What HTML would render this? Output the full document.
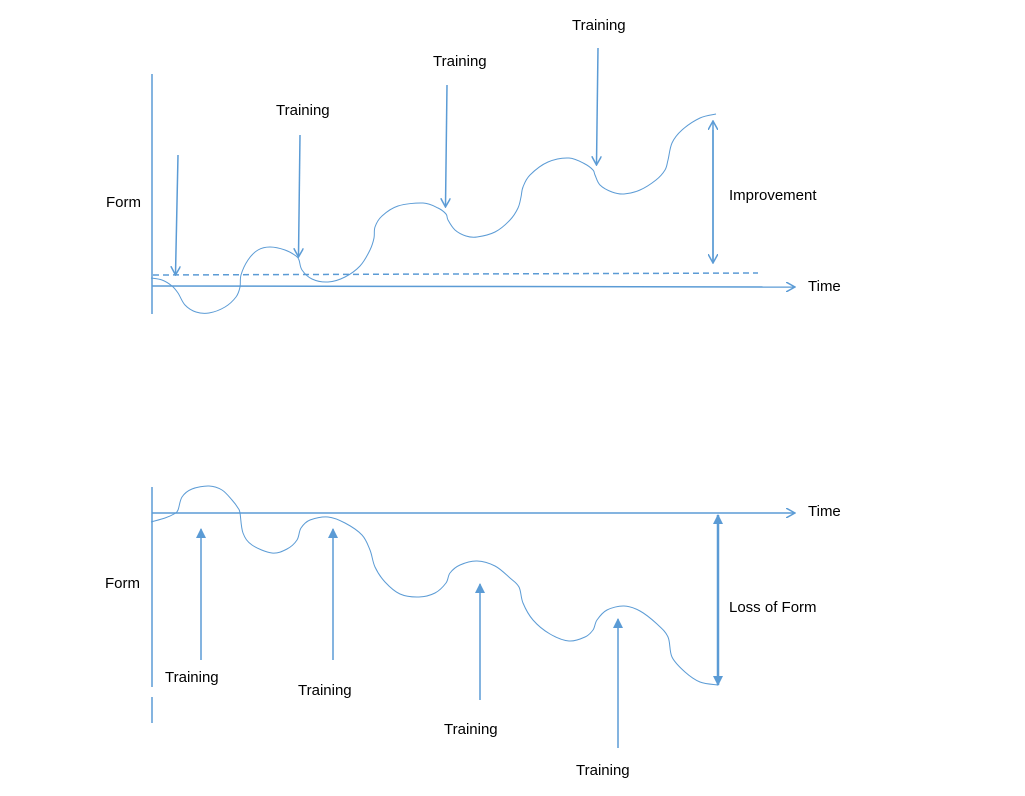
<!DOCTYPE html>
<html><head><meta charset="utf-8"><style>
html,body{margin:0;padding:0;background:#fff;}
svg{display:block}
text{font-family:"Liberation Sans",sans-serif;font-size:15px;fill:#000}
</style></head><body>
<svg width="1025" height="796" viewBox="0 0 1025 796">
<defs>
<marker id="a" markerWidth="10" markerHeight="10" refX="8" refY="5" orient="auto" markerUnits="userSpaceOnUse">
<path d="M0,0 L9,5 L0,10" fill="none" stroke="#5b9bd5" stroke-width="1.5"/></marker>
<marker id="t" markerWidth="10" markerHeight="10" refX="9" refY="5" orient="auto" markerUnits="userSpaceOnUse">
<path d="M0,0 L10,5 L0,10 Z" fill="#5b9bd5"/></marker>
</defs>
<g stroke="#5b9bd5" fill="none">
<line x1="152" y1="74" x2="152" y2="314" stroke-width="1.5"/>
<line x1="152" y1="286" x2="794" y2="287" stroke-width="1.5" marker-end="url(#a)"/>
<line x1="153" y1="275" x2="758" y2="273" stroke-width="1.5" stroke-dasharray="6,4"/>
<polyline class="sm" stroke-width="1" stroke-linejoin="round" points="151,278 162,280 172,286 178,293 185,305 196,312 209,313 225,307 236,297 240,287 241,275 248,260 258,250 270,247 285,250 296,256 299,260 302,270 312,279 328,282 345,277 360,266 370,250 374,238 375,227 382,216 398,206 423,203 438,208 446,214 448,220 455,230 466,236 477,237 495,232 510,220 518,208 521,197 523,187 530,175 548,162 569,158 585,164 593,170 595,175 600,185 612,192 624,194 640,190 656,180 665,170 668,160 672,143 682,130 700,118 716,114"/>
<line x1="178" y1="155" x2="175.5" y2="274" stroke-width="1.5" marker-end="url(#a)"/>
<line x1="300" y1="135" x2="298.5" y2="256" stroke-width="1.5" marker-end="url(#a)"/>
<line x1="447" y1="85" x2="445.5" y2="206" stroke-width="1.5" marker-end="url(#a)"/>
<line x1="598" y1="48" x2="596.5" y2="164" stroke-width="1.5" marker-end="url(#a)"/>
<line x1="713" y1="130" x2="713" y2="262" stroke-width="1.5" marker-end="url(#a)"/>
<line x1="713" y1="262" x2="713" y2="122" stroke-width="1.5" marker-end="url(#a)"/>
<line x1="152" y1="487" x2="152" y2="687" stroke-width="1.5"/>
<line x1="152" y1="697" x2="152" y2="723" stroke-width="1.5"/>
<line x1="152" y1="513" x2="794" y2="513" stroke-width="1.5" marker-end="url(#a)"/>
<polyline class="sm" stroke-width="1" stroke-linejoin="round" points="151,522 165,518 174,514 178,510 182,497 192,489 209,486 222,490 232,500 238,508 240,513 243,533 252,545 272,553 287,549 297,540 301,528 310,520 328,517 345,523 362,535 370,550 375,567 385,582 400,594 419,597 435,593 446,583 450,573 460,565 477,561 495,566 510,578 519,587 523,603 533,620 550,634 569,641 585,637 593,630 597,620 607,610 624,606 640,611 657,624 668,637 672,657 685,672 700,682 718,685"/>
<line x1="201" y1="660" x2="201" y2="529" stroke-width="1.5" marker-end="url(#t)"/>
<line x1="333" y1="660" x2="333" y2="529" stroke-width="1.5" marker-end="url(#t)"/>
<line x1="480" y1="700" x2="480" y2="584" stroke-width="1.5" marker-end="url(#t)"/>
<line x1="618" y1="748" x2="618" y2="619" stroke-width="1.5" marker-end="url(#t)"/>
<line x1="718" y1="600" x2="718" y2="685" stroke-width="2.5" marker-end="url(#t)"/>
<line x1="718" y1="600" x2="718" y2="515" stroke-width="2.5" marker-end="url(#t)"/>
</g>
<text x="276" y="115">Training</text>
<text x="433" y="66">Training</text>
<text x="572" y="30">Training</text>
<text x="106" y="207">Form</text>
<text x="729" y="200">Improvement</text>
<text x="808" y="291">Time</text>
<text x="105" y="588">Form</text>
<text x="729" y="612">Loss of Form</text>
<text x="808" y="516">Time</text>
<text x="165" y="682">Training</text>
<text x="298" y="695">Training</text>
<text x="444" y="734">Training</text>
<text x="576" y="775">Training</text>
</svg>
<script>
document.querySelectorAll('polyline.sm').forEach(function(pl){
  var p=pl.getAttribute('points').trim().split(/\s+/).map(function(s){return s.split(',').map(Number);});
  var d='M'+p[0][0]+','+p[0][1];
  for(var i=0;i<p.length-1;i++){
    var p0=p[i>0?i-1:i],p1=p[i],p2=p[i+1],p3=p[i+2<p.length?i+2:i+1];
    var c1x=p1[0]+(p2[0]-p0[0])/6,c1y=p1[1]+(p2[1]-p0[1])/6;
    var c2x=p2[0]-(p3[0]-p1[0])/6,c2y=p2[1]-(p3[1]-p1[1])/6;
    d+=' C'+c1x.toFixed(1)+','+c1y.toFixed(1)+' '+c2x.toFixed(1)+','+c2y.toFixed(1)+' '+p2[0]+','+p2[1];
  }
  var path=document.createElementNS('http://www.w3.org/2000/svg','path');
  path.setAttribute('d',d);path.setAttribute('stroke','#5b9bd5');path.setAttribute('fill','none');path.setAttribute('stroke-width','1');
  pl.parentNode.replaceChild(path,pl);
});
</script>
</body></html>
